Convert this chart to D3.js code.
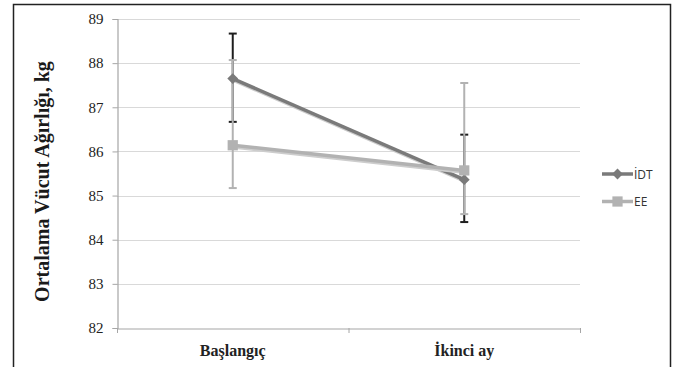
<!DOCTYPE html>
<html>
<head>
<meta charset="utf-8">
<script src="https://cdn.jsdelivr.net/npm/d3@7"></script>
<style>
  body { margin: 0; background: #fff; }
</style>
</head>
<body>
<div id="chart"></div>
<script>
// data
const categories = ["Başlangıç", "İkinci ay"];
const seriesNames = ["İDT", "EE"];
const idtMean = [87.65, 85.36];
const idtLow = [86.67, 84.40];
const idtHigh = [88.67, 86.38];
const eeMean = [86.14, 85.57];
const eeLow = [85.17, 84.58];
const eeHigh = [88.07, 87.55];
const yTicks = [82, 83, 84, 85, 86, 87, 88, 89];

const width = 682, height = 367;
const margin = {top: 19, right: 102, bottom: 39, left: 117};
const serif = "'Liberation Serif', 'Times New Roman', 'DejaVu Serif', serif";

const svg = d3.select("#chart").append("svg")
  .attr("width", width)
  .attr("height", height);

// outer frame
svg.append("rect")
  .attr("x", 13.5).attr("y", 4.5)
  .attr("width", 657).attr("height", 380)
  .attr("fill", "none")
  .attr("stroke", "#222")
  .attr("stroke-width", 1.5);

const x = d3.scaleBand()
  .domain(categories)
  .range([margin.left, width - margin.right]);

const y = d3.scaleLinear()
  .domain([82, 89])
  .range([height - margin.bottom, margin.top]);

// gridlines
svg.append("g")
  .selectAll("line")
  .data(yTicks.slice(1))
  .enter().append("line")
    .attr("x1", margin.left).attr("x2", width - margin.right)
    .attr("y1", d => Math.round(y(d)) + 0.5)
    .attr("y2", d => Math.round(y(d)) + 0.5)
    .attr("stroke", "#d9d9d9")
    .attr("stroke-width", 1.2);

// y axis
const yAxis = svg.append("g")
  .attr("transform", `translate(${margin.left + 0.5},0)`)
  .call(d3.axisLeft(y).tickValues(yTicks).tickFormat(d3.format("d")).tickSize(5).tickPadding(9));
yAxis.select(".domain").attr("stroke", "#a6a6a6").attr("stroke-width", 1.2);
yAxis.selectAll(".tick line").attr("stroke", "#a6a6a6");
yAxis.selectAll("text")
  .attr("fill", "#222")
  .style("font-family", serif)
  .style("font-size", "15px");

// x axis
const xAxis = svg.append("g")
  .attr("transform", `translate(0,${height - margin.bottom + 0.5})`)
  .call(d3.axisBottom(x).tickSize(0).tickPadding(16));
xAxis.select(".domain").attr("stroke", "#a6a6a6").attr("stroke-width", 1.2);
xAxis.selectAll("text")
  .attr("fill", "#222")
  .style("font-family", serif)
  .style("font-weight", "bold")
  .style("font-size", "16px");
// category boundary ticks
svg.append("g")
  .selectAll("line")
  .data([x.range()[0], x(categories[1]), x.range()[1]])
  .enter().append("line")
    .attr("x1", d => d + 0.5).attr("x2", d => d + 0.5)
    .attr("y1", height - margin.bottom)
    .attr("y2", height - margin.bottom + 5)
    .attr("stroke", "#a6a6a6");

// y title
svg.append("text")
  .attr("transform", `translate(49,${(margin.top + height - margin.bottom) / 2 + 8}) rotate(-90)`)
  .attr("text-anchor", "middle")
  .attr("fill", "#1a1a1a")
  .style("font-family", serif)
  .style("font-weight", "bold")
  .style("font-size", "20px")
  .text("Ortalama Vücut Ağırlığı, kg");

const cx = c => x(c) + x.bandwidth() / 2;

const series = [
  {name: seriesNames[0], mean: idtMean, low: idtLow, high: idtHigh,
   color: "#7a7a7a", err: "#1e1e1e", shape: d3.symbolDiamond2, size: 75},
  {name: seriesNames[1], mean: eeMean, low: eeLow, high: eeHigh,
   color: "#b2b2b2", err: "#b2b2b2", shape: d3.symbolSquare, size: 105}
];

const line = d3.line()
  .x((d, i) => cx(categories[i]))
  .y(d => y(d));

// error bars
series.forEach(s => {
  const g = svg.append("g");
  g.selectAll("line.v")
    .data(categories)
    .enter().append("line")
      .attr("x1", c => cx(c)).attr("x2", c => cx(c))
      .attr("y1", (c, i) => y(s.low[i]))
      .attr("y2", (c, i) => y(s.high[i]))
      .attr("stroke", s.err).attr("stroke-width", 2);
  ["low", "high"].forEach(k => {
    g.selectAll("line." + k)
      .data(categories)
      .enter().append("line")
        .attr("x1", c => cx(c) - 4).attr("x2", c => cx(c) + 4)
        .attr("y1", (c, i) => y(s[k][i]))
        .attr("y2", (c, i) => y(s[k][i]))
        .attr("stroke", s.err).attr("stroke-width", 2);
  });
});

// lines + markers (IDT first, EE on top like the original)
series.forEach(s => {
  svg.append("path")
    .datum(s.mean)
    .attr("fill", "none")
    .attr("stroke", "#cdcdcd")
    .attr("stroke-width", 3)
    .attr("transform", "translate(1,2)")
    .attr("d", line);
  svg.append("path")
    .datum(s.mean)
    .attr("fill", "none")
    .attr("stroke", s.color)
    .attr("stroke-width", 3.5)
    .attr("d", line);
});
series.forEach(s => {
  svg.selectAll(null)
    .data(s.mean)
    .enter().append("path")
      .attr("transform", (d, i) => `translate(${cx(categories[i])},${y(d)})`)
      .attr("d", d3.symbol().type(s.shape).size(s.size))
      .attr("fill", s.color);
});

// legend
const legend = svg.append("g").attr("transform", "translate(602,174)");
series.forEach((s, i) => {
  const g = legend.append("g").attr("transform", `translate(0,${i * 27.5})`);
  g.append("line")
    .attr("x1", 0).attr("x2", 31)
    .attr("stroke", s.color).attr("stroke-width", 3.5);
  g.append("path")
    .attr("transform", "translate(15.5,0)")
    .attr("d", d3.symbol().type(s.shape).size(s.size))
    .attr("fill", s.color);
  g.append("text")
    .attr("x", 32).attr("y", 4.5)
    .attr("fill", "#333")
    .style("font-family", "'Open Sans', 'Liberation Sans', sans-serif")
    .style("font-size", "12px")
    .text(s.name);
});
</script>
</body>
</html>
